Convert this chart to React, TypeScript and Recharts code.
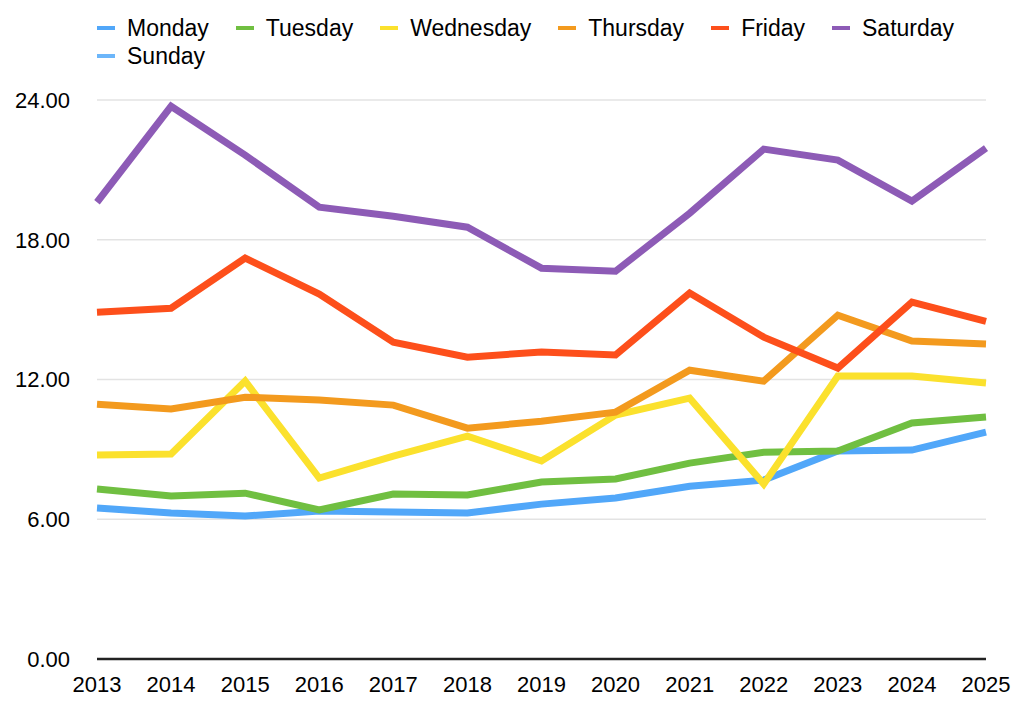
import React from 'react';
import { CartesianGrid, Line, LineChart, XAxis, YAxis } from 'recharts';

const years = ['2013', '2014', '2015', '2016', '2017', '2018', '2019', '2020', '2021', '2022', '2023', '2024', '2025'];

const monday = [6.48, 6.27, 6.14, 6.35, 6.31, 6.27, 6.65, 6.91, 7.42, 7.68, 8.93, 8.97, 9.74];
const tuesday = [7.3, 7.0, 7.12, 6.4, 7.08, 7.04, 7.6, 7.73, 8.41, 8.88, 8.93, 10.13, 10.39];
const wednesday = [8.76, 8.8, 11.93, 7.77, 8.71, 9.57, 8.5, 10.47, 11.2, 7.51, 12.15, 12.15, 11.85];
const thursday = [10.94, 10.73, 11.24, 11.12, 10.9, 9.91, 10.21, 10.6, 12.4, 11.93, 14.76, 13.65, 13.52];
const friday = [14.89, 15.06, 17.21, 15.67, 13.6, 12.96, 13.18, 13.05, 15.71, 13.82, 12.49, 15.32, 14.5];
const saturday = [19.61, 23.73, 21.63, 19.4, 19.01, 18.54, 16.78, 16.65, 19.14, 21.89, 21.42, 19.66, 21.93];
const sunday: (number | null)[] = years.map(() => null);

const yTicks = [0, 6, 12, 18, 24];

const series = [
  { key: 'Monday', values: monday, color: '#51a7f9' },
  { key: 'Tuesday', values: tuesday, color: '#70bf41' },
  { key: 'Wednesday', values: wednesday, color: '#fbe12d' },
  { key: 'Thursday', values: thursday, color: '#f39a1e' },
  { key: 'Friday', values: friday, color: '#fd4f1b' },
  { key: 'Saturday', values: saturday, color: '#8d5bb6' },
  { key: 'Sunday', values: sunday, color: '#6cb6fa' },
];

const data = years.map((year, i) => {
  const row: { [k: string]: string | number | null } = { year };
  series.forEach((s) => {
    row[s.key] = s.values[i];
  });
  return row;
});

const font = '"Liberation Sans", Arial, Helvetica, sans-serif';

function DayLegend() {
  return (
    <div
      style={{
        position: 'absolute',
        left: 97,
        top: 14,
        display: 'flex',
        flexWrap: 'wrap',
        width: 900,
        fontFamily: font,
        fontSize: 23,
        color: '#000',
      }}
    >
      {series.map((s) => (
        <div key={s.key} style={{ display: 'flex', alignItems: 'center', height: 28, marginRight: 27 }}>
          <span style={{ display: 'inline-block', width: 18, height: 4, background: s.color, marginRight: 12 }} />
          <span>{s.key}</span>
        </div>
      ))}
    </div>
  );
}

export default function App() {
  return (
    <div style={{ position: 'absolute', left: 0, top: 0, width: 1023, height: 703, background: '#fff' }}>
      <LineChart width={1023} height={703} data={data} margin={{ top: 100, right: 37, left: 0, bottom: 0 }}>
        <CartesianGrid vertical={false} stroke="#e3e3e3" strokeWidth={1.5} />
        <XAxis
          dataKey="year"
          padding={{ left: 0, right: 0 }}
          tickLine={false}
          axisLine={{ stroke: '#222', strokeWidth: 2.5 }}
          tick={{ fill: '#000', fontSize: 22, fontFamily: font }}
          tickMargin={11}
          height={44}
          interval={0}
        />
        <YAxis
          domain={[0, 24]}
          ticks={yTicks}
          width={97}
          axisLine={false}
          tickLine={false}
          tickSize={0}
          tickMargin={27}
          tickFormatter={(v: number) => v.toFixed(2)}
          tick={{ fill: '#000', fontSize: 22, fontFamily: font }}
        />
        {series.map((s) => (
          <Line
            key={s.key}
            type="linear"
            dataKey={s.key}
            stroke={s.color}
            strokeWidth={7}
            dot={false}
            activeDot={false}
            isAnimationActive={false}
          />
        ))}
      </LineChart>
      <DayLegend />
    </div>
  );
}
